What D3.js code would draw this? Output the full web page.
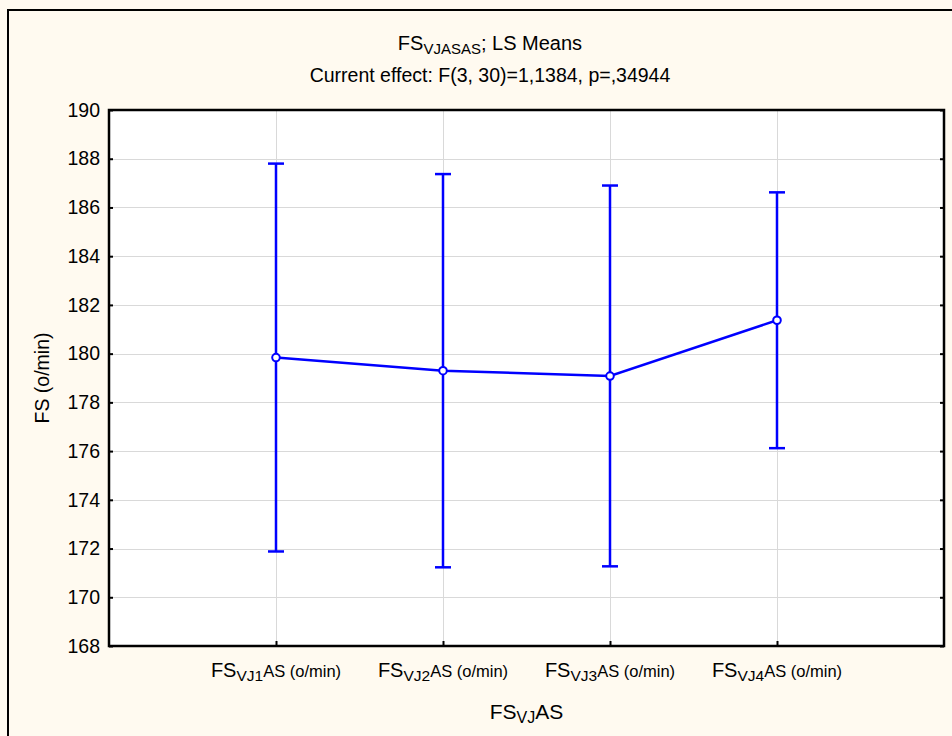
<!DOCTYPE html>
<html><head><meta charset="utf-8">
<script src="https://cdn.jsdelivr.net/npm/d3@7"></script>
<style>
html,body{margin:0;padding:0;background:#fffaf0;}
svg{display:block;font-family:"Liberation Sans",Arial,sans-serif;}
</style></head>
<body>
<svg id="chart" width="952" height="736"></svg>
<script>
// Data
const categories = ["VJ1", "VJ2", "VJ3", "VJ4"];
const means = [179.84, 179.30, 179.08, 181.37];
const upper = [187.80, 187.37, 186.90, 186.62];
const lower = [171.88, 171.23, 171.27, 176.12];
const yTicks = [168, 170, 172, 174, 176, 178, 180, 182, 184, 186, 188, 190];
const titleMain = "FS";
const titleSub = "VJASAS";
const titleRest = "; LS Means";
const subtitle = "Current effect: F(3, 30)=1,1384, p=,34944";
const yLabel = "FS (o/min)";

const svg = d3.select("#chart");
const W = 952, H = 736;
const plot = {left: 109, top: 110, right: 944, bottom: 646};

// background + outer frame
svg.append("rect").attr("width", W).attr("height", H).attr("fill", "#fffaf0");
svg.append("rect").attr("x", 8).attr("y", 10).attr("width", 970).attr("height", 740)
  .attr("fill", "none").attr("stroke", "#000").attr("stroke-width", 2);

const y = d3.scaleLinear().domain([168, 190]).range([plot.bottom, plot.top]);
const xPos = d3.scalePoint().domain(categories).range([plot.left, plot.right]).padding(1);

// plot area
svg.append("rect").attr("x", plot.left).attr("y", plot.top)
  .attr("width", plot.right - plot.left).attr("height", plot.bottom - plot.top)
  .attr("fill", "#fff");

// gridlines
const grid = svg.append("g").attr("stroke", "#d9d9d9").attr("stroke-width", 1);
yTicks.forEach(t => {
  if (t === 168 || t === 190) return;
  grid.append("line").attr("x1", plot.left).attr("x2", plot.right)
    .attr("y1", Math.round(y(t)) + 0.5).attr("y2", Math.round(y(t)) + 0.5);
});
categories.forEach(c => {
  grid.append("line").attr("y1", plot.top).attr("y2", plot.bottom)
    .attr("x1", Math.round(xPos(c)) + 0.5).attr("x2", Math.round(xPos(c)) + 0.5);
});

// axes
const yAxisL = d3.axisLeft(y).tickValues(yTicks).tickSize(-4).tickPadding(9).tickFormat(d3.format("d"));
const gL = svg.append("g").attr("transform", `translate(${plot.left},0)`).call(yAxisL);
gL.select(".domain").remove();
gL.selectAll("line").attr("stroke", "#000").attr("stroke-width", 2);
gL.selectAll("text").attr("font-size", 19.5).attr("fill", "#000");

const yAxisR = d3.axisRight(y).tickValues(yTicks).tickSize(-4).tickFormat("");
const gR = svg.append("g").attr("transform", `translate(${plot.right},0)`).call(yAxisR);
gR.select(".domain").remove();
gR.selectAll("line").attr("stroke", "#000").attr("stroke-width", 2);

const xAxis = d3.axisBottom(xPos).tickSize(-5).tickFormat("");
const gX = svg.append("g").attr("transform", `translate(0,${plot.bottom})`).call(xAxis);
gX.select(".domain").remove();
gX.selectAll("line").attr("stroke", "#000").attr("stroke-width", 2);

// frame
svg.append("rect").attr("x", plot.left).attr("y", plot.top)
  .attr("width", plot.right - plot.left).attr("height", plot.bottom - plot.top)
  .attr("fill", "none").attr("stroke", "#000").attr("stroke-width", 2.5);

// x tick labels
categories.forEach(c => {
  const t = svg.append("text").attr("x", xPos(c)).attr("y", 677)
    .attr("text-anchor", "middle").attr("fill", "#000");
  t.append("tspan").attr("font-size", 20).text("FS");
  t.append("tspan").attr("font-size", 15.5).attr("dy", 4).text(c);
  t.append("tspan").attr("font-size", 16.5).attr("dy", -4).text("AS (o/min)");
});

// x axis title
const xt = svg.append("text").attr("x", (plot.left + plot.right) / 2).attr("y", 719)
  .attr("text-anchor", "middle").attr("fill", "#000");
xt.append("tspan").attr("font-size", 21).text("FS");
xt.append("tspan").attr("font-size", 16).attr("dy", 4).text("VJ");
xt.append("tspan").attr("font-size", 21).attr("dy", -4).text("AS");

// y axis title
svg.append("text").attr("transform", `translate(49,${(plot.top + plot.bottom) / 2}) rotate(-90)`)
  .attr("text-anchor", "middle").attr("font-size", 19.5).attr("fill", "#000").text(yLabel);

// titles
const t1 = svg.append("text").attr("x", 490).attr("y", 50).attr("text-anchor", "middle").attr("fill", "#000");
t1.append("tspan").attr("font-size", 20).text(titleMain);
t1.append("tspan").attr("font-size", 15).attr("dy", 4).text(titleSub);
t1.append("tspan").attr("font-size", 20).attr("dy", -4).text(titleRest);
svg.append("text").attr("x", 490).attr("y", 82).attr("text-anchor", "middle")
  .attr("font-size", 19.5).attr("fill", "#000").text(subtitle);

// error bars
const blue = "#0000ff";
const eb = svg.append("g").attr("stroke", blue).attr("stroke-width", 2.5);
categories.forEach((c, i) => {
  const cx = xPos(c);
  eb.append("line").attr("x1", cx).attr("x2", cx).attr("y1", y(upper[i])).attr("y2", y(lower[i]));
  eb.append("line").attr("x1", cx - 8).attr("x2", cx + 8).attr("y1", y(upper[i])).attr("y2", y(upper[i]));
  eb.append("line").attr("x1", cx - 8).attr("x2", cx + 8).attr("y1", y(lower[i])).attr("y2", y(lower[i]));
});

// mean line
const line = d3.line().x((d, i) => xPos(categories[i])).y(d => y(d));
svg.append("path").datum(means).attr("d", line).attr("fill", "none")
  .attr("stroke", blue).attr("stroke-width", 2.5);

// markers
svg.selectAll("circle.m").data(means).enter().append("circle")
  .attr("cx", (d, i) => xPos(categories[i])).attr("cy", d => y(d)).attr("r", 3.8)
  .attr("fill", "#fff").attr("stroke", blue).attr("stroke-width", 2);
</script>
</body></html>
